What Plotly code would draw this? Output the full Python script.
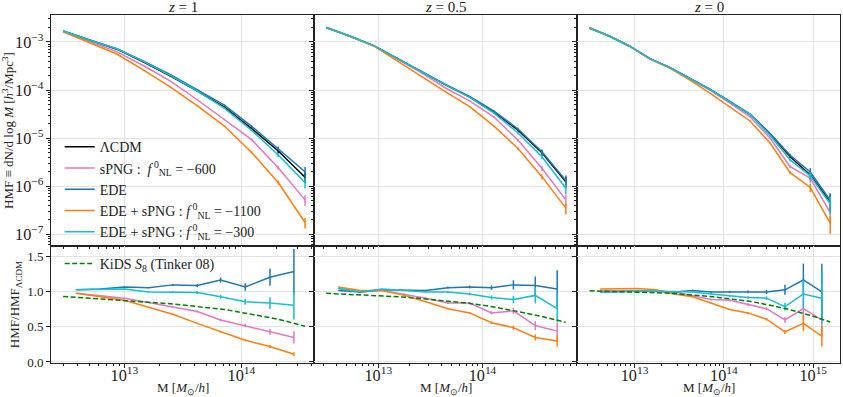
import plotly.graph_objects as go
from plotly.subplots import make_subplots

# halo masses [Msun/h] for the HMF panels (top) and the ratio panels (bottom)
mass_top_z1 = [2.99e12, 5.07e12, 8.61e12, 1.46e13, 2.48e13, 4.22e13, 7.16e13, 1.22e14, 2.07e14, 3.51e14]
mass_top_z05 = [3.16e12, 5.37e12, 9.12e12, 1.55e13, 2.63e13, 4.47e13, 7.59e13, 1.29e14, 2.19e14, 3.72e14, 6.31e14]
mass_top_z0 = [3.14e12, 5.27e12, 8.83e12, 1.48e13, 2.48e13, 4.17e13, 6.98e13, 1.17e14, 1.96e14, 3.30e14,
               5.52e14, 9.27e14, 1.55e15]
mass_bot_z1 = [3.88e12, 6.24e12, 1.0e13, 1.61e13, 2.59e13, 4.20e13, 6.65e13, 1.08e14, 1.76e14, 2.82e14]
mass_bot_z05 = [4.14e12, 6.71e12, 1.09e13, 1.77e13, 2.86e13, 4.65e13, 7.53e13, 1.22e14, 1.98e14, 3.21e14, 5.21e14]
mass_bot_z0 = [4.14e12, 6.67e12, 1.07e13, 1.73e13, 2.78e13, 4.47e13, 7.19e13, 1.16e14, 1.86e14, 3.00e14,
               4.83e14, 7.76e14, 1.25e15]

# HMF, z = 1
hmf_lcdm_z1 = [1.69e-3, 1.08e-3, 7.06e-4, 3.79e-4, 1.94e-4, 9.5e-5, 4.42e-5, 1.60e-5, 5.4e-6, 1.54e-6]
hmf_spng_z1 = [1.63e-3, 1.01e-3, 6.3e-4, 3.2e-4, 1.53e-4, 6.2e-5, 2.45e-5, 9.4e-6, 2.43e-6, 5.2e-7]
hmf_ede_z1 = [1.69e-3, 1.08e-3, 7.2e-4, 4.0e-4, 2.09e-4, 1.0e-4, 4.87e-5, 1.78e-5, 6.1e-6, 2.0e-6]
hmf_ede1100_z1 = [1.63e-3, 9.6e-4, 5.6e-4, 2.6e-4, 1.15e-4, 4.7e-5, 1.78e-5, 5.1e-6, 1.19e-6, 1.76e-7]
hmf_ede300_z1 = [1.69e-3, 1.08e-3, 7.2e-4, 3.9e-4, 1.99e-4, 9.5e-5, 4.2e-5, 1.47e-5, 4.45e-6, 1.19e-6]

# HMF, z = 0.5
hmf_lcdm_z05 = [1.99e-3, 1.31e-3, 8.3e-4, 4.38e-4, 2.35e-4, 1.26e-4, 7.1e-5, 3.48e-5, 1.47e-5, 4.97e-6, 1.23e-6]
hmf_spng_z05 = [1.99e-3, 1.31e-3, 8.3e-4, 4.28e-4, 2.24e-4, 1.09e-4, 5.9e-5, 2.74e-5, 9.1e-6, 2.36e-6, 5.2e-7]
hmf_ede_z05 = [1.99e-3, 1.31e-3, 8.3e-4, 4.48e-4, 2.41e-4, 1.29e-4, 7.3e-5, 3.65e-5, 1.55e-5, 5.2e-6, 1.32e-6]
hmf_ede1100_z05 = [2.02e-3, 1.31e-3, 8.15e-4, 3.88e-4, 1.90e-4, 9.0e-5, 4.48e-5, 1.78e-5, 6.1e-6, 1.58e-6, 3.5e-7]
hmf_ede300_z05 = [1.99e-3, 1.31e-3, 8.3e-4, 4.38e-4, 2.35e-4, 1.26e-4, 6.95e-5, 3.32e-5, 1.28e-5, 4.11e-6, 9.1e-7]

# HMF, z = 0
hmf_lcdm_z0 = [1.95e-3, 1.31e-3, 8.15e-4, 4.48e-4, 2.92e-4, 1.74e-4, 1.03e-4, 5.7e-5, 3.12e-5, 1.22e-5,
               4.11e-6, 1.71e-6, 4.8e-7]
hmf_spng_z0 = [1.95e-3, 1.31e-3, 8.15e-4, 4.48e-4, 2.92e-4, 1.68e-4, 9.95e-5, 5.35e-5, 2.78e-5, 9.9e-6,
               2.55e-6, 1.47e-6, 2.83e-7]
hmf_ede_z0 = [1.95e-3, 1.31e-3, 8.15e-4, 4.48e-4, 2.94e-4, 1.77e-4, 1.04e-4, 5.8e-5, 3.16e-5, 1.24e-5,
              4.4e-6, 1.98e-6, 5.1e-7]
hmf_ede1100_z0 = [1.99e-3, 1.31e-3, 8.15e-4, 4.38e-4, 2.85e-4, 1.60e-4, 8.6e-5, 4.42e-5, 2.27e-5, 7.8e-6,
                  1.91e-6, 9.4e-7, 1.71e-7]
hmf_ede300_z0 = [1.95e-3, 1.31e-3, 8.15e-4, 4.48e-4, 2.92e-4, 1.74e-4, 1.03e-4, 5.7e-5, 3.12e-5, 1.13e-5,
                 3.52e-6, 1.64e-6, 4.3e-7]

# HMF / HMF_LCDM
ratio_spng_z1 = [0.98, 0.95, 0.91, 0.85, 0.79, 0.72, 0.60, 0.52, 0.43, 0.35]
ratio_ede_z1 = [1.03, 1.04, 1.07, 1.06, 1.10, 1.09, 1.17, 1.07, 1.21, 1.29]
ratio_ede1100_z1 = [0.98, 0.93, 0.88, 0.78, 0.68, 0.55, 0.43, 0.31, 0.22, 0.11]
ratio_ede300_z1 = [1.03, 1.03, 1.04, 1.00, 1.00, 0.99, 0.93, 0.86, 0.84, 0.81]

ratio_spng_z05 = [1.05, 1.00, 1.02, 0.97, 0.91, 0.84, 0.84, 0.70, 0.73, 0.52, 0.44]
ratio_ede_z05 = [1.02, 1.00, 1.03, 1.02, 1.02, 1.06, 1.07, 1.06, 1.10, 1.09, 1.04]
ratio_ede1100_z05 = [1.07, 1.02, 1.02, 0.95, 0.86, 0.76, 0.70, 0.56, 0.49, 0.35, 0.30]
ratio_ede300_z05 = [1.05, 1.00, 1.04, 1.02, 1.00, 1.00, 0.97, 0.92, 0.89, 0.95, 0.76]

ratio_spng_z0 = [1.02, 1.02, 1.02, 1.01, 1.00, 0.95, 0.89, 0.88, 0.82, 0.76, 0.60, 0.76, 0.60]
ratio_ede_z0 = [1.00, 1.01, 1.01, 1.01, 1.00, 1.02, 1.00, 1.00, 1.00, 1.00, 1.03, 1.17, 1.00]
ratio_ede1100_z0 = [1.04, 1.05, 1.05, 1.03, 0.97, 0.93, 0.84, 0.75, 0.70, 0.61, 0.43, 0.55, 0.37]
ratio_ede300_z0 = [1.00, 1.01, 1.01, 1.01, 1.00, 1.00, 0.97, 0.94, 0.92, 0.91, 0.79, 0.97, 0.91]

# KiDS S8 (Tinker 08) prediction, at the top-panel masses
tinker_z1 = [0.935, 0.91, 0.885, 0.86, 0.83, 0.79, 0.75, 0.68, 0.61, 0.51]
tinker_z05 = [0.98, 0.965, 0.95, 0.93, 0.905, 0.875, 0.835, 0.785, 0.72, 0.65, 0.565]
tinker_z0 = [1.015, 1.01, 1.0, 0.99, 0.98, 0.96, 0.935, 0.9, 0.865, 0.81, 0.745, 0.665, 0.57]

# relative error per mass bin
relerr_z1 = [0.003, 0.004, 0.006, 0.008, 0.012, 0.02, 0.03, 0.05, 0.1, 0.25]
relerr_z05 = [0.003, 0.004, 0.005, 0.007, 0.01, 0.015, 0.02, 0.03, 0.06, 0.12, 0.26]
relerr_z0 = [0.003, 0.004, 0.005, 0.006, 0.008, 0.01, 0.012, 0.015, 0.02, 0.03, 0.07, 0.2, 0.4]

redshift_labels = ["<i>z</i> = 1", "<i>z</i> = 0.5", "<i>z</i> = 0"]

names = ["ΛCDM",
         "sPNG :  <i>f</i><sup> 0</sup><sub>NL</sub> = −600",
         "EDE",
         "EDE + sPNG : <i>f</i><sup> 0</sup><sub>NL</sub> = −1100",
         "EDE + sPNG : <i>f</i><sup> 0</sup><sub>NL</sub> = −300"]
colors = ["black", "#e377c2", "#1f77b4", "#ff7f0e", "#17becf"]

panels = [
    dict(mt=mass_top_z1, mb=mass_bot_z1, err=relerr_z1, tink=tinker_z1,
         hmf=[hmf_lcdm_z1, hmf_spng_z1, hmf_ede_z1, hmf_ede1100_z1, hmf_ede300_z1],
         ratio=[ratio_spng_z1, ratio_ede_z1, ratio_ede1100_z1, ratio_ede300_z1],
         xr=[12.372, 14.622]),
    dict(mt=mass_top_z05, mb=mass_bot_z05, err=relerr_z05, tink=tinker_z05,
         hmf=[hmf_lcdm_z05, hmf_spng_z05, hmf_ede_z05, hmf_ede1100_z05, hmf_ede300_z05],
         ratio=[ratio_spng_z05, ratio_ede_z05, ratio_ede1100_z05, ratio_ede300_z05],
         xr=[12.383, 14.907]),
    dict(mt=mass_top_z0, mb=mass_bot_z0, err=relerr_z0, tink=tinker_z0,
         hmf=[hmf_lcdm_z0, hmf_spng_z0, hmf_ede_z0, hmf_ede1100_z0, hmf_ede300_z0],
         ratio=[ratio_spng_z0, ratio_ede_z0, ratio_ede1100_z0, ratio_ede300_z0],
         xr=[12.356, 15.30]),
]

fig = make_subplots(rows=2, cols=3, shared_xaxes=True, shared_yaxes=True,
                    horizontal_spacing=0, vertical_spacing=0, row_heights=[231, 117])

for c, p in enumerate(panels, start=1):
    # top: the halo mass functions
    for i, vals in enumerate(p["hmf"]):
        fig.add_trace(go.Scatter(
            x=p["mt"], y=vals, mode="lines", name=names[i],
            line=dict(color=colors[i], width=1.5),
            error_y=dict(type="data", array=[e * v for e, v in zip(p["err"], vals)],
                         width=0, thickness=1.5, color=colors[i]),
            showlegend=(c == 1), legend="legend"), row=1, col=c)
    # bottom: ratios to LCDM
    for i, vals in enumerate(p["ratio"]):
        fig.add_trace(go.Scatter(
            x=p["mb"], y=vals, mode="lines", name=names[i + 1],
            line=dict(color=colors[i + 1], width=1.5),
            error_y=dict(type="data", array=[e * v for e, v in zip(p["err"], vals)],
                         width=0, thickness=1.5, color=colors[i + 1]),
            showlegend=False), row=2, col=c)
    fig.add_trace(go.Scatter(
        x=p["mt"], y=p["tink"], mode="lines", name="KiDS <i>S</i><sub>8</sub> (Tinker 08)",
        line=dict(color="#008000", width=1.5, dash="5px,2.5px"),
        showlegend=(c == 1), legend="legend2"), row=2, col=c)

font = "Liberation Serif"
axis_style = dict(showline=True, mirror=True, linecolor="#222", linewidth=1,
                  ticks="outside", ticklen=4, tickcolor="#222", automargin=False,
                  gridcolor="#e3e3e3", gridwidth=1, zeroline=False,
                  tickfont=dict(family=font, size=13, color="#222"))

for c, p in enumerate(panels, start=1):
    for r in (1, 2):
        fig.update_xaxes(type="log", range=p["xr"], dtick=1, exponentformat="power",
                         minor=dict(ticks="outside", ticklen=2, tickcolor="#222", showgrid=False),
                         showticklabels=(r == 2), ticklabelstandoff=-6,
                         row=r, col=c, **axis_style)
    fig.update_yaxes(type="log", range=[-7.243, -2.44], dtick=1, exponentformat="power",
                     minor=dict(ticks="outside", ticklen=2, tickcolor="#222", showgrid=False),
                     showticklabels=(c == 1), row=1, col=c, **axis_style)
    fig.update_yaxes(range=[-0.015, 1.655], tickvals=[0, 0.5, 1.0, 1.5], tickformat=".1f",
                     showticklabels=(c == 1), row=2, col=c, **axis_style)
    # mass axis label under each bottom panel
    fig.add_annotation(text="M [<i>M</i><sub>⊙</sub>/<i>h</i>]", x=(c - 0.5) / 3, y=-0.073,
                       xref="paper", yref="paper", xanchor="center", yanchor="middle",
                       showarrow=False, font=dict(family=font, size=13, color="#222"))

fig.update_yaxes(title=dict(text="HMF ≡ dN/d log <i>M</i> [<i>h</i><sup>3</sup>/Mpc<sup>3</sup>]",
                            standoff=4, font=dict(family=font, size=13, color="#222")), row=1, col=1)
fig.update_yaxes(title=dict(text="HMF/HMF<sub>ΛCDM</sub>", standoff=4,
                            font=dict(family=font, size=13, color="#222")), row=2, col=1)

for c, txt in enumerate(redshift_labels):
    fig.add_annotation(text=txt, x=(c + 0.5) / 3, y=1.0, xref="paper", yref="paper",
                       xanchor="center", yanchor="middle", showarrow=False, yshift=8,
                       font=dict(family=font, size=15, color="#222"))

fig.update_layout(
    width=843, height=397,
    margin=dict(l=51, r=3, t=15, b=34),
    plot_bgcolor="white", paper_bgcolor="white",
    font=dict(family=font, size=14, color="#222"),
    legend=dict(x=0.011, y=0.666, xanchor="left", yanchor="top", bgcolor="rgba(0,0,0,0)",
                font=dict(family=font, size=14), tracegroupgap=0, itemwidth=30),
    legend2=dict(x=0.011, y=0.331, xanchor="left", yanchor="top", bgcolor="rgba(0,0,0,0)",
                 font=dict(family=font, size=14), itemwidth=30),
)

# the page's default body margin would shift the figure, so drop it
fig.write_html("out.html", config={"displayModeBar": False},
               post_script="document.body.style.margin = '0px';")
